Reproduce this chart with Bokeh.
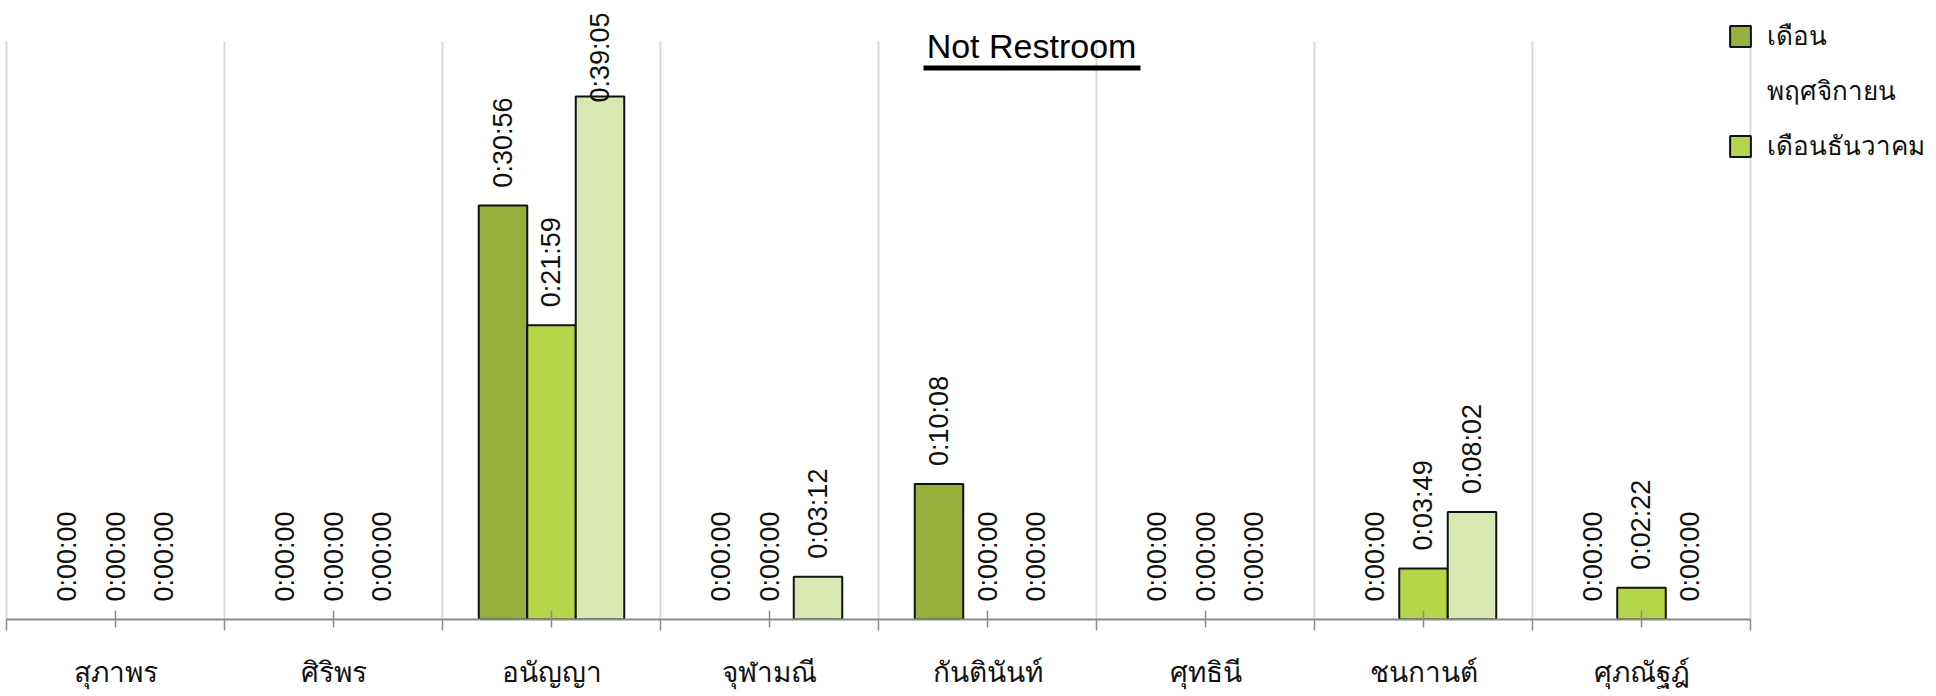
from bokeh.plotting import figure
from bokeh.models import (ColumnDataSource, Range1d, FixedTicker, LabelSet, Label,
                          Legend, LegendItem, BoxAnnotation)
from bokeh.core.properties import value
from bokeh.transform import dodge
from bokeh.embed import file_html
from bokeh.resources import INLINE
import math

# ---------------- data ----------------
names = ["สุภาพร", "ศิริพร", "อนัญญา", "จุฬามณี", "กันตินันท์", "ศุทธินี", "ชนกานต์", "ศุภณัฐฎ์"]
nov = ["0:00:00", "0:00:00", "0:30:56", "0:00:00", "0:10:08", "0:00:00", "0:00:00", "0:00:00"]
dec = ["0:00:00", "0:00:00", "0:21:59", "0:00:00", "0:00:00", "0:00:00", "0:03:49", "0:02:22"]
third = ["0:00:00", "0:00:00", "0:39:05", "0:03:12", "0:00:00", "0:00:00", "0:08:02", "0:00:00"]
legend_lines = ["เดือน", "พฤศจิกายน", "เดือนธันวาคม"]  # first series name wraps onto two lines
title_text = "Not Restroom"
y_max_seconds = 2592  # 0.03 day

colors = ["#97b03c", "#b5d54b", "#d9e8b3"]


def secs(t):
    h, m, s = (int(v) for v in t.split(":"))
    return h * 3600 + m * 60 + s


# ---------------- layout ----------------
W, H = 1936, 696
PLOT_L, PLOT_R, PLOT_T, PLOT_B = 6, 1750, 41, 619
n = len(names)
cat_px = (PLOT_R - PLOT_L) / n
sec_px = (PLOT_B - PLOT_T) / y_max_seconds

x_start = -PLOT_L / cat_px
x_end = (W - PLOT_L) / cat_px
y_end = PLOT_B / sec_px

p = figure(frame_width=W, frame_height=PLOT_B,
           min_border_left=0, min_border_right=0, min_border_top=0, min_border_bottom=H - PLOT_B,
           x_range=Range1d(x_start, x_end), y_range=Range1d(0, y_end),
           y_axis_location=None, output_backend="svg", toolbar_location=None,
           background_fill_color="white", border_fill_color="white")
p.outline_line_color = None
p.xgrid.visible = False
p.ygrid.visible = False

font_num = "Liberation Sans"
xs = [i + 0.5 for i in range(n)]
bounds_x = list(range(n + 1))

# category separators
p.segment(x0=bounds_x, y0=[0] * len(bounds_x), x1=bounds_x, y1=[y_max_seconds] * len(bounds_x),
          line_color="#d9d9d9", line_width=2)

bw = 0.2225
offsets = [-bw, 0.0, bw]
LABEL_LEN = 90

renderers = []
for k, ser in enumerate([nov, dec, third]):
    vals = [secs(t) for t in ser]
    offs = []
    for v in vals:
        top_px = v * sec_px
        o = 18
        if top_px + o + LABEL_LEN > PLOT_B - 12:
            o = PLOT_B - 12 - LABEL_LEN - top_px
        offs.append(o)
    bar_src = ColumnDataSource(dict(x=[x for x, v in zip(xs, vals) if v > 0],
                                    v=[v for v in vals if v > 0]))
    lab_src = ColumnDataSource(dict(x=xs, v=vals, lab=ser, off=offs))
    r = p.vbar(x=dodge("x", offsets[k], range=p.x_range), top="v", width=bw, bottom=0,
               source=bar_src, fill_color=colors[k], line_color="#111111", line_width=2)
    renderers.append(r)
    p.add_layout(LabelSet(x=dodge("x", offsets[k], range=p.x_range), y="v", text="lab",
                          source=lab_src, angle=math.pi / 2, text_align="left",
                          text_baseline="middle", y_offset="off", text_font_size="27px",
                          text_color="#111111", text_font=value(font_num)))

# invisible renderer for the wrapped second line of the first legend entry
blank = p.vbar(x=[], top=[], width=bw, fill_alpha=0, line_alpha=0)

# x axis
ax = p.xaxis[0]
ax.bounds = (0, n)
ax.ticker = FixedTicker(ticks=xs, minor_ticks=bounds_x)
ax.major_label_overrides = {x: nm for x, nm in zip(xs, names)}
ax.axis_line_color = "#8c8c8c"
ax.axis_line_width = 2
ax.major_tick_in = 9
ax.major_tick_out = 8
ax.minor_tick_in = 0
ax.minor_tick_out = 11
ax.major_tick_line_color = "#8c8c8c"
ax.minor_tick_line_color = "#8c8c8c"
ax.major_tick_line_width = 1.5
ax.minor_tick_line_width = 1.5
ax.major_label_text_font_size = "28px"
ax.major_label_text_color = "#111111"
ax.major_label_standoff = 26
ax.major_label_text_font = font_num

# title with underline
p.add_layout(Label(x=1031, y=PLOT_B - 45, x_units="screen", y_units="screen", text=title_text,
                   text_align="center", text_baseline="middle", text_font_size="34px",
                   text_font=font_num, text_color="#000000"))
p.add_layout(BoxAnnotation(left=923, right=1140, top=65, bottom=70,
                           left_units="canvas", right_units="canvas",
                           top_units="canvas", bottom_units="canvas",
                           fill_color="#000000", fill_alpha=1, line_color=None))

legend = Legend(items=[LegendItem(label=legend_lines[0], renderers=[renderers[0]]),
                       LegendItem(label=legend_lines[1], renderers=[blank]),
                       LegendItem(label=legend_lines[2], renderers=[renderers[1]])],
                location=(1727, PLOT_B - 166), orientation="vertical",
                background_fill_alpha=0, border_line_color=None,
                label_text_font_size="26px", label_text_font=font_num,
                label_text_color="#111111",
                glyph_width=26, glyph_height=26, spacing=14, padding=0, margin=0,
                label_standoff=14)
p.add_layout(legend)

open("out.html", "w").write(file_html(p, INLINE))
